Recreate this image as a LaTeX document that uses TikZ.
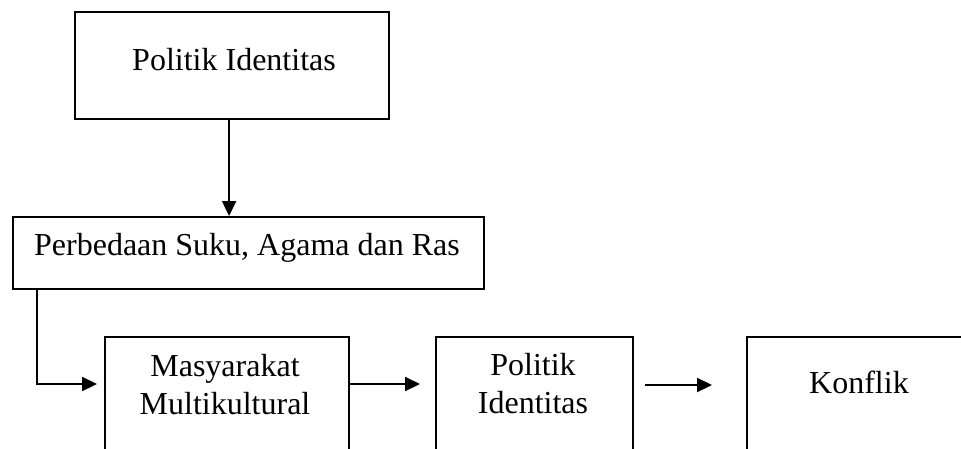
\documentclass[tikz,border=0pt]{standalone}
\usepackage{fontspec}
\setmainfont{Liberation Serif}
\usetikzlibrary{arrows.meta,calc}
\begin{document}
\begin{tikzpicture}[x=1pt,y=-1pt,
  box/.style={draw=black, line width=2.2pt, rectangle, inner sep=0pt, anchor=north west},
  lbl/.style={inner sep=0pt, font=\fontsize{32}{38}\selectfont, align=center},
  arr/.style={line width=2.2pt, -{Triangle[length=15pt,width=14pt]}}]
\useasboundingbox (0,0) rectangle (961,448);
\clip (0,0) rectangle (961,448);
% boxes
\node[box, minimum width=314pt, minimum height=107pt] (top) at (74,11) {};
\node[box, minimum width=471pt, minimum height=72pt] (perb) at (12,216) {};
\node[box, minimum width=244pt, minimum height=160pt] (masy) at (104,336) {};
\node[box, minimum width=197pt, minimum height=160pt] (pol) at (435,336) {};
\node[box, minimum width=260pt, minimum height=160pt] (konf) at (746,336) {};
% texts
\node[lbl, anchor=base] (ttop) at (234,70) {Politik Identitas};
\node[lbl, anchor=base] (tperb) at (247,255) {Perbedaan Suku, Agama dan Ras};
\node[lbl] (tmasy) at (225,385) {Masyarakat\\Multikultural};
\node[lbl] (tpol) at (533,384) {Politik\\Identitas};
\node[lbl, anchor=base] (tkonf) at (859,393) {Konflik};
% connectors
\draw[arr] ([xshift=-3pt]top.south) -- ([xshift=-3pt]top.south |- perb.north);
\coordinate (a1) at ($(masy.north west)+(-7,48)$);
\draw[arr] ([xshift=25pt]perb.south west) |- (a1);
\coordinate (b0) at ($(masy.north east)+(0,48)$);
\coordinate (b1) at ($(pol.north west)+(-15,48)$);
\draw[arr] (b0) -- (b1);
\coordinate (c0) at ($(pol.north east)+(11,49)$);
\coordinate (c1) at ($(konf.north west)+(-34,49)$);
\draw[arr] (c0) -- (c1);
\end{tikzpicture}
\end{document}
